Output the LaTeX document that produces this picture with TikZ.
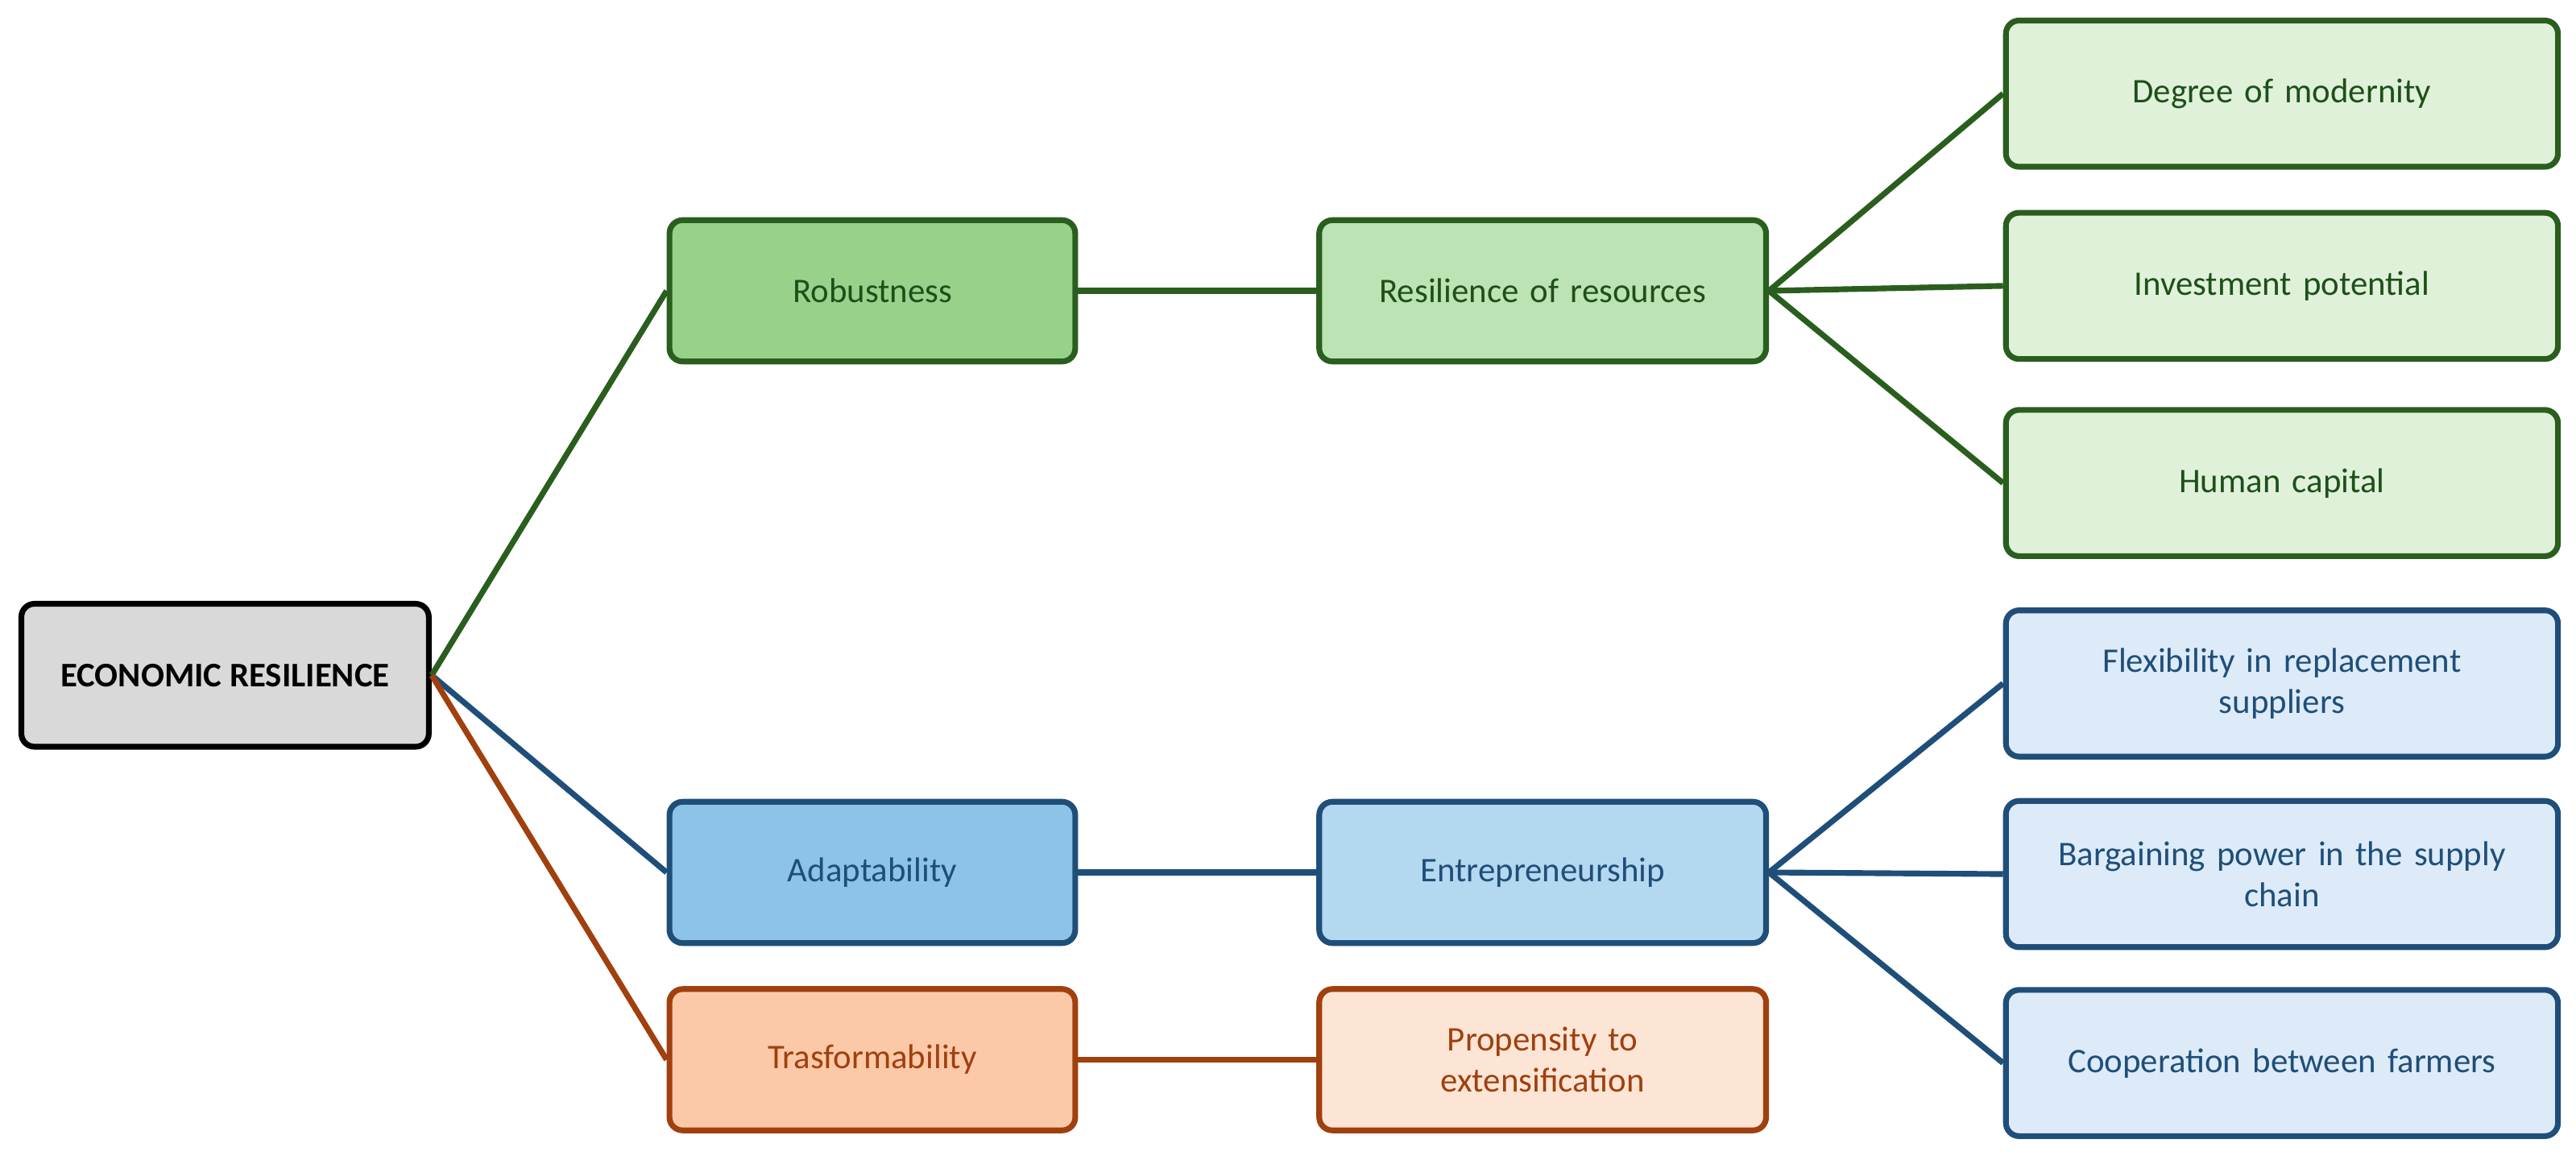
\documentclass[tikz,border=0pt]{standalone}
\usepackage{fontspec}
\setmainfont{Carlito}
\usetikzlibrary{positioning}
\definecolor{gline}{HTML}{2A5E1E}
\definecolor{gtext}{HTML}{1E4F1A}
\definecolor{gfillA}{HTML}{98D28A}
\definecolor{gfillB}{HTML}{BCE3B3}
\definecolor{gfillC}{HTML}{E0F1DA}
\definecolor{bline}{HTML}{1F4E79}
\definecolor{bfillA}{HTML}{8DC3E6}
\definecolor{bfillB}{HTML}{B4D8F0}
\definecolor{bfillC}{HTML}{DCEBF7}
\definecolor{oline}{HTML}{A0400E}
\definecolor{ofillA}{HTML}{FBC9A8}
\definecolor{ofillB}{HTML}{FDE5D5}
\begin{document}
\begin{tikzpicture}[x=1pt,y=-1pt,line width=3.5pt,
		box/.style={rectangle,rounded corners=8pt,draw,align=center,font=\fontsize{21}{25}\selectfont},
		mid/.style={box,minimum width=247pt,minimum height=86pt},
		wide/.style={box,minimum width=272pt,minimum height=86pt,text width=240pt},
		leaf/.style={box,minimum width=336pt,minimum height=89pt,text width=320pt},
		green/.style={draw=gline,text=gtext}, blue/.style={draw=bline,text=bline},
		orange/.style={draw=oline,text=oline}]
		\useasboundingbox (0,0) rectangle (1568,706);
		
		\node[box,minimum width=248pt,minimum height=87pt,fill=black!15,draw=black,font=\fontsize{21}{25}\selectfont\bfseries] (econ) at (137,411) {ECONOMIC RESILIENCE};
		
		\node[mid,green,fill=gfillA] (robust) at (531,177) {Robustness};
		\node[mid,blue,fill=bfillA] (adapt) at (531,531) {Adaptability};
		\node[mid,orange,fill=ofillA] (transf) at (531,645) {Trasformability};
		
		\node[wide,green,fill=gfillB] (resour) at (939,177) {Resilience of resources};
		\node[wide,blue,fill=bfillB] (entre) at (939,531) {Entrepreneurship};
		\node[wide,orange,fill=ofillB] (propen) at (939,645) {Propensity to\\extensification};
		
		\node[leaf,green,fill=gfillC] (modern) at (1389,57) {Degree of modernity};
		\node[leaf,green,fill=gfillC] (invest) at (1389,174) {Investment potential};
		\node[leaf,green,fill=gfillC] (human) at (1389,294) {Human capital};
		\node[leaf,blue,fill=bfillC] (flex) at (1389,416) {Flexibility in replacement\\suppliers};
		\node[leaf,blue,fill=bfillC] (bargain) at (1389,532) {Bargaining power in the supply\\chain};
		\node[leaf,blue,fill=bfillC] (coop) at (1389,647) {Cooperation between farmers};
		
		% connectors
		\draw[gline] (econ.east) -- (robust.west);
		\draw[bline] (econ.east) -- (adapt.west);
		\draw[oline] (econ.east) -- (transf.west);
		\draw[gline] (robust) -- (resour);
		\draw[bline] (adapt) -- (entre);
		\draw[oline] (transf) -- (propen);
		\foreach \n in {modern,invest,human}
			\draw[gline] (resour.east) -- (\n.west);
		\foreach \n in {flex,bargain,coop}
			\draw[bline] (entre.east) -- (\n.west);
\end{tikzpicture}
\end{document}
